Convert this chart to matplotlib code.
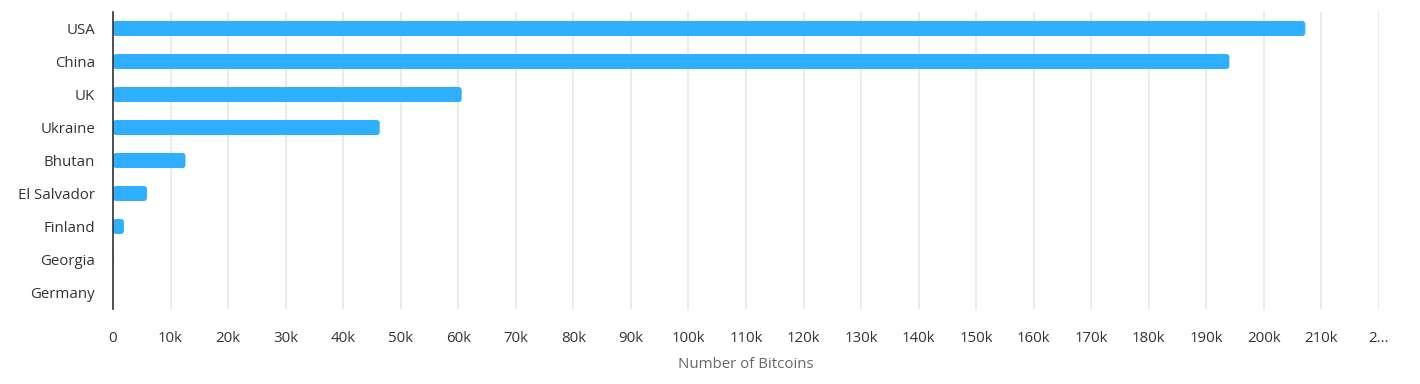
import numpy as np
import matplotlib.pyplot as plt
from matplotlib.patches import FancyBboxPatch

countries = ['USA', 'China', 'UK', 'Ukraine', 'Bhutan', 'El Salvador',
             'Finland', 'Georgia', 'Germany']
bitcoins = [207189, 194000, 60600, 46351, 12600, 5900, 1900, 66, 0]
x_ticks = np.arange(0, 230000, 10000)
x_tick_labels = ['0'] + ['%dk' % (t // 1000) for t in x_ticks[1:-1]] + ['2...']

plt.rcParams['font.family'] = ['Open Sans', 'DejaVu Sans']

fig = plt.figure(figsize=(14.2, 3.84), dpi=100)
ax = fig.add_axes([113 / 1420, 1 - 309 / 384, 1266 / 1420, 297 / 384])

x_max = 220000
n = len(countries)
ax.set_xlim(0, x_max)
ax.set_ylim(n - 0.5, -0.5)

# pixel sizes, used to keep the rounded corners round
px_x = x_max / 1266
px_y = n / 297
bar_h = 15 * px_y
radius = 3 * px_x

for i, v in enumerate(bitcoins):
    if v <= 0:
        continue
    box = FancyBboxPatch((0, i - bar_h / 2), v, bar_h,
                         boxstyle='round,pad=0,rounding_size=%f' % min(radius, v / 2),
                         mutation_aspect=px_y / px_x,
                         facecolor='#2eafff', edgecolor='none', zorder=3)
    ax.add_patch(box)

ax.set_yticks(range(n))
ax.set_yticklabels(countries, fontsize=10.8, color='#333333')
ax.set_xticks(x_ticks)
ax.set_xticklabels(x_tick_labels, fontsize=10.8, color='#333333')
ax.tick_params(axis='y', length=0, pad=13)
ax.tick_params(axis='x', length=0, pad=16)

ax.grid(axis='x', color='#e6e6e6', linewidth=1.1, zorder=0)
for s in ['top', 'right', 'bottom']:
    ax.spines[s].set_visible(False)
ax.spines['left'].set_color('#333333')
ax.spines['left'].set_linewidth(1.2)
ax.spines['left'].set_zorder(4)

ax.set_xlabel('Number of Bitcoins', fontsize=10.8, color='#666666', labelpad=8)

fig.savefig('out.png', dpi=100)
